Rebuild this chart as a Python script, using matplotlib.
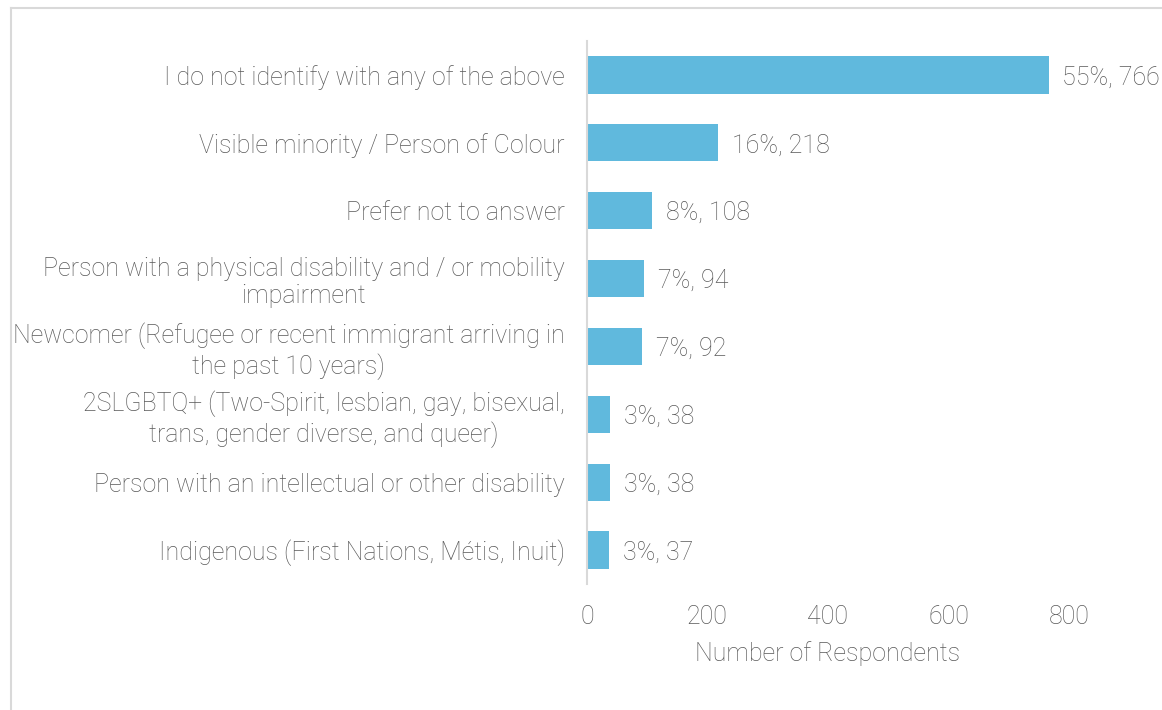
import matplotlib.pyplot as plt
from matplotlib.lines import Line2D

# Survey responses, top to bottom
categories = [
    "I do not identify with any of the above",
    "Visible minority / Person of Colour",
    "Prefer not to answer",
    "Person with a physical disability and / or mobility\nimpairment",
    "Newcomer (Refugee or recent immigrant arriving in\nthe past 10 years)",
    "2SLGBTQ+ (Two-Spirit, lesbian, gay, bisexual,\ntrans, gender diverse, and queer)",
    "Person with an intellectual or other disability",
    "Indigenous (First Nations, Métis, Inuit)",
]
counts = [766, 218, 108, 94, 92, 38, 38, 37]
pcts = [55, 16, 8, 7, 7, 3, 3, 3]
xticks = [0, 200, 400, 600, 800]

BAR = "#60b9dd"
TXT = "#595959"
GRID = "#d9d9d9"
FS = 18

plt.rcParams["font.family"] = ["Roboto", "DejaVu Sans"]
plt.rcParams["font.weight"] = "light"
plt.rcParams["axes.labelweight"] = "light"

W, H = 1162, 710
fig = plt.figure(figsize=(W / 100, H / 100), dpi=100)

# plot area in pixel terms: x 587..1069, y 41..584
ax = fig.add_axes([587 / W, 1 - 584 / H, (1069 - 587) / W, (584 - 41) / H])

ypos = list(range(len(categories)))
ax.barh(ypos, counts, height=0.55, color=BAR)
for y, c, p in zip(ypos, counts, pcts):
    ax.annotate(f"{p}%, {c}", (c, y), xytext=(10, 0), textcoords="offset points",
                va="center_baseline", ha="left", fontsize=FS, color=TXT)

ax.set_xlim(0, 800)
ax.set_ylim(len(categories) - 0.5, -0.5)
ax.set_yticks(ypos)
ax.set_yticklabels(categories, fontsize=FS, color=TXT, multialignment="center",
                   linespacing=1.18)
ax.set_xticks(xticks)
ax.set_xticklabels([str(t) for t in xticks], fontsize=FS, color=TXT)
ax.tick_params(axis="both", length=0)
ax.tick_params(axis="y", pad=16)
ax.tick_params(axis="x", pad=15)
ax.set_xlabel("Number of Respondents", fontsize=FS, color=TXT, labelpad=9,
              fontweight="light")

for side in ["top", "right", "bottom"]:
    ax.spines[side].set_visible(False)
ax.spines["left"].set_color(GRID)
ax.spines["left"].set_linewidth(1.5)

# outer chart frame (runs off the right and bottom edges)
fig.add_artist(Line2D([10.5 / W, 10.5 / W], [0, 1 - 7.5 / H], color=GRID, lw=1.5))
fig.add_artist(Line2D([10.5 / W, 1], [1 - 7.5 / H, 1 - 7.5 / H], color=GRID, lw=1.5))

fig.savefig("out.png", dpi=100)
